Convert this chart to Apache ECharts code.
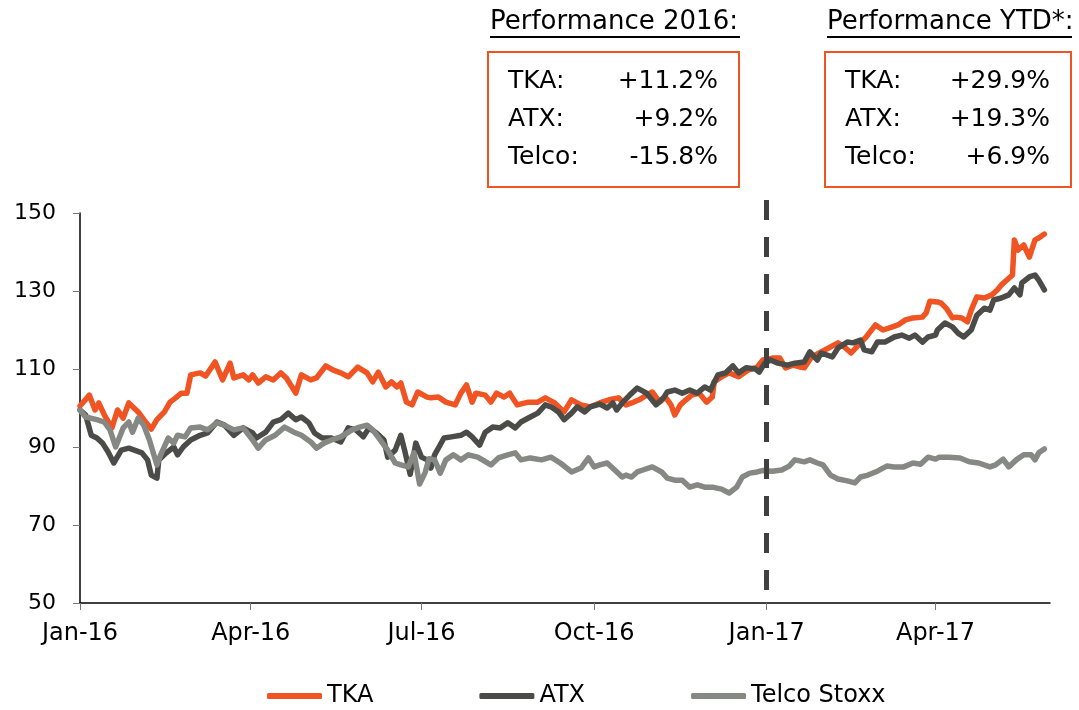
<!DOCTYPE html>
<html>
<head>
<meta charset="utf-8">
<script src="https://cdn.jsdelivr.net/npm/echarts/dist/echarts.min.js"></script>
<style>
  html, body { margin: 0; padding: 0; background: #fff; }
  #main { width: 1079px; height: 710px; }
</style>
</head>
<body>
<div id="main"></div>
<script>
// indexed share prices, Jan-16 = 100
var tka = [
  ['2016-01-01',100.5],['2016-01-06',103.3],['2016-01-09',99.5],['2016-01-11',101.3],['2016-01-14',98.2],
  ['2016-01-18',94.9],['2016-01-21',99.5],['2016-01-24',97.4],['2016-01-27',101.3],['2016-02-01',99.0],
  ['2016-02-04',97.0],['2016-02-08',94.6],['2016-02-11',97.0],['2016-02-15',99.0],['2016-02-18',101.5],
  ['2016-02-21',102.6],['2016-02-24',103.8],['2016-02-27',103.8],['2016-02-29',108.5],['2016-03-05',109.0],
  ['2016-03-08',108.2],['2016-03-13',111.8],['2016-03-17',107.2],['2016-03-21',111.5],['2016-03-23',107.7],
  ['2016-03-28',108.5],['2016-03-31',107.2],['2016-04-02',108.5],['2016-04-05',106.4],['2016-04-09',108.0],
  ['2016-04-13',107.2],['2016-04-17',109.0],['2016-04-20',107.7],['2016-04-25',103.8],['2016-04-28',108.5],
  ['2016-05-03',107.2],['2016-05-06',107.7],['2016-05-11',110.8],['2016-05-15',109.7],['2016-05-19',109.0],
  ['2016-05-23',108.0],['2016-05-28',110.5],['2016-06-02',109.0],['2016-06-05',106.7],['2016-06-08',109.2],
  ['2016-06-12',105.4],['2016-06-15',106.7],['2016-06-18',105.4],['2016-06-20',106.4],['2016-06-23',101.5],
  ['2016-06-26',100.8],['2016-06-29',104.1],['2016-07-04',102.8],['2016-07-06',102.6],['2016-07-10',102.8],
  ['2016-07-14',101.5],['2016-07-19',100.8],['2016-07-22',103.8],['2016-07-25',105.9],['2016-07-28',101.5],
  ['2016-07-30',103.8],['2016-08-04',103.3],['2016-08-07',101.5],['2016-08-10',103.8],['2016-08-14',102.8],
  ['2016-08-17',103.8],['2016-08-21',100.8],['2016-08-27',101.5],['2016-09-01',101.5],['2016-09-05',102.6],
  ['2016-09-10',101.3],['2016-09-15',99.0],['2016-09-19',102.1],['2016-09-24',100.8],['2016-09-29',100.3],
  ['2016-10-04',101.3],['2016-10-09',102.1],['2016-10-14',102.6],['2016-10-18',100.8],['2016-10-21',101.3],
  ['2016-10-25',102.1],['2016-10-29',103.3],['2016-11-01',104.1],['2016-11-05',101.5],['2016-11-08',102.8],
  ['2016-11-11',100.8],['2016-11-13',98.2],['2016-11-16',100.8],['2016-11-19',102.1],['2016-11-22',103.3],
  ['2016-11-26',103.8],['2016-11-30',101.5],['2016-12-03',102.8],['2016-12-04',106.7],['2016-12-08',108.0],
  ['2016-12-12',109.0],['2016-12-17',108.0],['2016-12-22',109.7],['2016-12-27',110.5],['2016-12-30',112.3],
  ['2017-01-04',112.8],['2017-01-08',112.8],['2017-01-11',110.3],['2017-01-15',111.0],['2017-01-19',110.5],
  ['2017-01-21',110.3],['2017-01-25',113.1],['2017-01-30',114.4],['2017-02-03',115.4],['2017-02-08',116.7],
  ['2017-02-12',115.4],['2017-02-15',114.1],['2017-02-19',116.2],['2017-02-23',118.2],['2017-02-28',121.3],
  ['2017-03-04',120.0],['2017-03-09',120.8],['2017-03-12',121.3],['2017-03-16',122.6],['2017-03-20',123.1],
  ['2017-03-25',123.3],['2017-03-27',124.4],['2017-03-29',127.4],['2017-04-02',127.2],['2017-04-04',126.9],
  ['2017-04-07',125.4],['2017-04-10',123.1],['2017-04-12',123.3],['2017-04-15',123.1],['2017-04-18',122.1],
  ['2017-04-20',125.1],['2017-04-23',128.5],['2017-04-27',128.2],['2017-05-01',129.0],['2017-05-04',130.3],
  ['2017-05-06',131.5],['2017-05-09',132.8],['2017-05-12',134.1],['2017-05-13',143.1],['2017-05-15',140.5],
  ['2017-05-18',141.8],['2017-05-21',138.7],['2017-05-24',143.1],['2017-05-26',143.6],['2017-05-29',144.6]
];

var atx = [
  ['2016-01-01',99.5],['2016-01-04',98.2],['2016-01-07',93.0],['2016-01-10',92.3],['2016-01-13',91.0],
  ['2016-01-16',88.7],['2016-01-19',85.9],['2016-01-23',89.2],['2016-01-27',89.7],['2016-01-30',89.2],
  ['2016-02-03',88.5],['2016-02-06',86.7],['2016-02-08',82.8],['2016-02-11',82.0],['2016-02-12',86.7],
  ['2016-02-16',88.5],['2016-02-20',90.0],['2016-02-22',88.0],['2016-02-25',90.0],['2016-02-29',91.8],
  ['2016-03-05',93.0],['2016-03-09',93.6],['2016-03-14',96.4],['2016-03-18',95.6],['2016-03-23',93.0],
  ['2016-03-28',94.9],['2016-04-02',93.6],['2016-04-04',92.3],['2016-04-09',93.8],['2016-04-13',96.4],
  ['2016-04-17',97.0],['2016-04-21',98.7],['2016-04-25',97.0],['2016-04-28',97.7],['2016-05-02',96.2],
  ['2016-05-05',93.6],['2016-05-09',92.3],['2016-05-14',92.3],['2016-05-19',91.3],['2016-05-23',94.9],
  ['2016-05-27',94.4],['2016-05-31',92.6],['2016-06-03',94.9],['2016-06-07',93.6],['2016-06-11',91.8],
  ['2016-06-13',87.4],['2016-06-17',89.2],['2016-06-20',93.0],['2016-06-22',89.2],['2016-06-25',83.0],
  ['2016-06-28',91.0],['2016-07-01',87.4],['2016-07-04',86.7],['2016-07-06',84.6],['2016-07-08',88.0],
  ['2016-07-13',92.3],['2016-07-17',92.6],['2016-07-22',93.0],['2016-07-25',93.8],['2016-07-28',92.6],
  ['2016-08-01',90.5],['2016-08-04',93.8],['2016-08-08',95.1],['2016-08-12',94.9],['2016-08-16',96.2],
  ['2016-08-20',94.9],['2016-08-23',96.4],['2016-08-28',97.7],['2016-09-01',98.7],['2016-09-05',100.8],
  ['2016-09-08',100.3],['2016-09-12',99.0],['2016-09-15',97.0],['2016-09-19',98.7],['2016-09-22',100.3],
  ['2016-09-26',99.0],['2016-09-29',100.3],['2016-10-04',101.0],['2016-10-08',100.0],['2016-10-11',101.3],
  ['2016-10-13',99.5],['2016-10-16',101.3],['2016-10-20',103.3],['2016-10-24',105.1],['2016-10-29',103.8],
  ['2016-11-03',100.8],['2016-11-07',102.6],['2016-11-09',104.1],['2016-11-13',104.6],['2016-11-17',103.8],
  ['2016-11-21',104.6],['2016-11-25',103.8],['2016-11-29',105.4],['2016-12-02',104.6],['2016-12-06',108.5],
  ['2016-12-10',109.0],['2016-12-14',110.8],['2016-12-17',109.0],['2016-12-21',110.3],['2016-12-26',110.0],
  ['2016-12-28',109.2],['2016-12-31',111.5],['2017-01-03',112.3],['2017-01-07',111.5],['2017-01-12',111.0],
  ['2017-01-16',111.5],['2017-01-21',111.8],['2017-01-24',114.4],['2017-01-28',112.3],['2017-01-30',114.1],
  ['2017-02-05',113.1],['2017-02-08',115.4],['2017-02-13',116.9],['2017-02-16',116.7],['2017-02-20',117.4],
  ['2017-02-22',114.9],['2017-02-26',114.4],['2017-03-01',116.9],['2017-03-05',116.9],['2017-03-10',118.2],
  ['2017-03-14',118.7],['2017-03-18',117.9],['2017-03-21',118.7],['2017-03-25',116.9],['2017-03-28',118.2],
  ['2017-04-01',118.7],['2017-04-02',120.0],['2017-04-06',121.8],['2017-04-10',120.8],['2017-04-13',119.2],
  ['2017-04-16',118.2],['2017-04-20',120.0],['2017-04-23',123.8],['2017-04-27',125.6],['2017-04-30',125.1],
  ['2017-05-02',127.7],['2017-05-06',128.2],['2017-05-10',129.0],['2017-05-13',130.8],['2017-05-16',129.0],
  ['2017-05-17',132.1],['2017-05-21',133.6],['2017-05-24',134.1],['2017-05-26',132.8],['2017-05-29',130.3]
];

var telco = [
  ['2016-01-01',99.5],['2016-01-04',97.7],['2016-01-10',97.0],['2016-01-14',96.4],['2016-01-17',94.4],
  ['2016-01-20',90.0],['2016-01-24',94.9],['2016-01-27',96.4],['2016-01-29',93.8],['2016-02-01',97.4],
  ['2016-02-04',95.6],['2016-02-07',91.8],['2016-02-11',85.4],['2016-02-13',88.0],['2016-02-17',92.3],
  ['2016-02-20',91.0],['2016-02-22',93.0],['2016-02-26',92.6],['2016-02-29',94.9],['2016-03-05',95.1],
  ['2016-03-09',94.4],['2016-03-14',96.2],['2016-03-18',95.6],['2016-03-23',94.4],['2016-03-28',94.9],
  ['2016-04-02',91.8],['2016-04-05',89.7],['2016-04-09',91.8],['2016-04-14',93.0],['2016-04-19',95.1],
  ['2016-04-24',93.8],['2016-04-28',93.0],['2016-05-03',91.3],['2016-05-06',89.7],['2016-05-10',91.0],
  ['2016-05-14',91.8],['2016-05-19',92.6],['2016-05-25',94.4],['2016-05-29',95.1],['2016-06-02',95.6],
  ['2016-06-05',94.4],['2016-06-09',91.8],['2016-06-13',89.2],['2016-06-17',85.9],['2016-06-20',85.4],
  ['2016-06-24',84.9],['2016-06-27',88.5],['2016-06-30',80.5],['2016-07-03',83.5],['2016-07-05',87.0],
  ['2016-07-08',86.7],['2016-07-11',83.3],['2016-07-14',86.7],['2016-07-18',88.0],['2016-07-22',86.7],
  ['2016-07-26',88.0],['2016-07-31',87.4],['2016-08-07',85.4],['2016-08-11',87.2],['2016-08-16',88.0],
  ['2016-08-20',88.5],['2016-08-23',86.7],['2016-08-28',87.2],['2016-09-03',86.7],['2016-09-08',87.4],
  ['2016-09-13',85.9],['2016-09-19',83.6],['2016-09-24',84.6],['2016-09-28',87.2],['2016-10-01',84.9],
  ['2016-10-04',85.4],['2016-10-08',85.9],['2016-10-12',84.1],['2016-10-16',82.3],['2016-10-18',82.8],
  ['2016-10-21',82.3],['2016-10-24',83.6],['2016-10-27',84.1],['2016-11-01',84.9],['2016-11-06',83.6],
  ['2016-11-09',82.0],['2016-11-13',81.5],['2016-11-17',81.5],['2016-11-21',79.7],['2016-11-25',80.3],
  ['2016-11-29',79.7],['2016-12-03',79.7],['2016-12-08',79.2],['2016-12-12',78.2],['2016-12-16',79.7],
  ['2016-12-19',82.3],['2016-12-23',83.3],['2016-12-27',83.6],['2016-12-30',84.0],['2017-01-04',83.8],
  ['2017-01-09',84.1],['2017-01-13',85.1],['2017-01-16',86.7],['2017-01-21',86.2],['2017-01-24',86.7],
  ['2017-01-28',85.9],['2017-01-31',85.4],['2017-02-04',82.8],['2017-02-08',81.8],['2017-02-13',81.3],
  ['2017-02-17',80.8],['2017-02-20',82.3],['2017-02-24',82.8],['2017-03-01',83.8],['2017-03-06',85.1],
  ['2017-03-10',84.9],['2017-03-15',84.9],['2017-03-20',85.9],['2017-03-24',85.6],['2017-03-28',87.4],
  ['2017-04-01',86.9],['2017-04-03',87.4],['2017-04-08',87.4],['2017-04-14',87.2],['2017-04-19',86.2],
  ['2017-04-24',85.9],['2017-04-30',84.9],['2017-05-03',85.4],['2017-05-07',86.9],['2017-05-10',84.9],
  ['2017-05-14',86.7],['2017-05-18',88.0],['2017-05-22',88.0],['2017-05-24',86.7],['2017-05-26',88.5],
  ['2017-05-29',89.5]
];

var seriesNames = ['TKA', 'ATX', 'Telco Stoxx'];
var quarterTicks = ['2016-01-01', '2016-04-01', '2016-07-01', '2016-10-01', '2017-01-01', '2017-04-01'];
var perfLabels = ['TKA:', 'ATX:', 'Telco:'];
var perf2016 = ['+11.2%', '+9.2%', '-15.8%'];
var perfYtd = ['+29.9%', '+19.3%', '+6.9%'];

var FONT = '"DejaVu Sans", Verdana, sans-serif';
var months = ['Jan','Feb','Mar','Apr','May','Jun','Jul','Aug','Sep','Oct','Nov','Dec'];

// date string -> timestamp (local time)
function t(s) {
  var p = s.split('-');
  return new Date(+p[0], +p[1] - 1, +p[2]).getTime();
}
function toPoints(arr) {
  return arr.map(function (d) { return [t(d[0]), d[1]]; });
}

var xMin = t('2016-01-01');
var xMax = t('2017-06-01');
var yearEnd = t('2017-01-01');
var tickTimes = quarterTicks.map(t);

// boxes with the performance figures
var graphics = [];
function perfBox(title, left, right, values) {
  graphics.push({ type: 'text', style: { text: title, x: left + 2, y: 22, font: '26px ' + FONT, fill: '#000', textVerticalAlign: 'middle' } });
  graphics.push({ type: 'line', shape: { x1: left + 2, y1: 37, x2: right + 1, y2: 37 }, style: { stroke: '#000', lineWidth: 2 } });
  graphics.push({ type: 'rect', shape: { x: left, y: 52, width: right - left, height: 135 }, style: { fill: '#fff', stroke: '#F05423', lineWidth: 2 } });
  for (var i = 0; i < perfLabels.length; i++) {
    var yy = 81 + i * 38;
    graphics.push({ type: 'text', style: { text: perfLabels[i], x: left + 20, y: yy, font: '25px ' + FONT, fill: '#000', textVerticalAlign: 'middle' } });
    graphics.push({ type: 'text', style: { text: values[i], x: right - 21, y: yy, font: '25px ' + FONT, fill: '#000', textAlign: 'right', textVerticalAlign: 'middle' } });
  }
}
perfBox('Performance 2016:', 488, 739, perf2016);
perfBox('Performance YTD*:', 825, 1071, perfYtd);

var myChart = echarts.init(document.getElementById('main'));

var option = {
  animation: false,
  backgroundColor: '#fff',
  grid: [
    { left: 80, right: 29, top: 213, bottom: 107 },
    { left: 80, right: 29, top: 200, bottom: 107 }
  ],
  legend: {
    data: seriesNames,
    left: 262,
    top: 679,
    icon: 'roundRect',
    itemWidth: 55,
    itemHeight: 6,
    itemGap: 106,
    textStyle: { fontFamily: FONT, fontSize: 24, color: '#000' }
  },
  xAxis: [
    {
      type: 'value',
      gridIndex: 0,
      min: xMin,
      max: xMax,
      axisLine: { lineStyle: { color: '#000', width: 1.5 } },
      axisTick: { show: true, length: 7, lineStyle: { color: '#777' }, customValues: tickTimes },
      axisLabel: {
        customValues: tickTimes,
        margin: 19,
        fontFamily: FONT,
        fontSize: 24,
        color: '#000',
        formatter: function (v) {
          var d = new Date(v);
          return months[d.getMonth()] + '-' + String(d.getFullYear()).slice(2);
        }
      },
      splitLine: { show: false }
    },
    { type: 'value', gridIndex: 1, min: xMin, max: xMax, show: false }
  ],
  yAxis: [
    {
      type: 'value',
      gridIndex: 0,
      min: 50,
      max: 150,
      interval: 20,
      axisLine: { show: true, lineStyle: { color: '#000', width: 1.5 } },
      axisTick: { show: true, length: 7, lineStyle: { color: '#777' } },
      axisLabel: { margin: 24, fontFamily: FONT, fontSize: 22, color: '#000' },
      splitLine: { show: false }
    },
    { type: 'value', gridIndex: 1, min: 50, max: 153.3, show: false }
  ],
  series: [
    {
      name: 'TKA', type: 'line', data: toPoints(tka), symbol: 'none', smooth: false,
      lineStyle: { color: '#F05423', width: 5.5, cap: 'round', join: 'round' },
      itemStyle: { color: '#F05423' }
    },
    {
      name: 'ATX', type: 'line', data: toPoints(atx), symbol: 'none', smooth: false,
      lineStyle: { color: '#4B4C48', width: 5.5, cap: 'round', join: 'round' },
      itemStyle: { color: '#4B4C48' }
    },
    {
      name: 'Telco Stoxx', type: 'line', data: toPoints(telco), symbol: 'none', smooth: false,
      lineStyle: { color: '#868883', width: 5.5, cap: 'round', join: 'round' },
      itemStyle: { color: '#868883' }
    },
    {
      name: 'year end', type: 'line', xAxisIndex: 1, yAxisIndex: 1, data: [],
      markLine: {
        silent: true,
        symbol: 'none',
        label: { show: false },
        lineStyle: { color: '#404040', width: 5, type: [20, 17] },
        data: [[{ coord: [yearEnd, 153.3] }, { coord: [yearEnd, 50] }]]
      }
    }
  ],
  graphic: graphics
};

myChart.setOption(option);
</script>
</body>
</html>
